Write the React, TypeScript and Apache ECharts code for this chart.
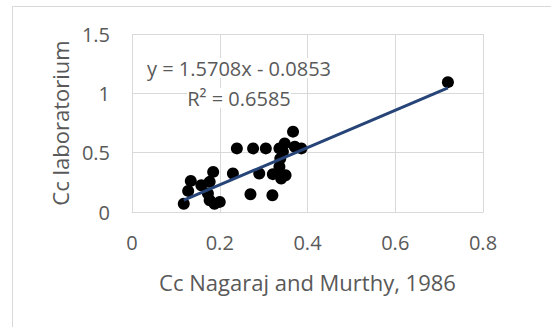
import React, { useEffect, useRef } from "react";
import * as echarts from "echarts";

const xValues = [0.118, 0.128, 0.134, 0.158, 0.177, 0.185, 0.173, 0.177, 0.188, 0.2, 0.23, 0.239, 0.27, 0.276, 0.29, 0.305, 0.32, 0.321, 0.336, 0.348, 0.367, 0.371, 0.386, 0.336, 0.34, 0.35, 0.333, 0.344, 0.338, 0.72];
const yValues = [0.07, 0.178, 0.262, 0.226, 0.254, 0.338, 0.155, 0.099, 0.07, 0.085, 0.324, 0.536, 0.149, 0.536, 0.324, 0.536, 0.141, 0.319, 0.536, 0.578, 0.677, 0.55, 0.536, 0.381, 0.282, 0.31, 0.324, 0.508, 0.45, 1.094];
const slope = 1.5708;
const intercept = -0.0853;
const xTicks = [0, 0.2, 0.4, 0.6, 0.8];
const yTicks = [0, 0.5, 1, 1.5];
const xTitle = "Cc Nagaraj and Murthy, 1986";
const yTitle = "Cc laboratorium";
const eqLabel = "y = 1.5708x - 0.0853";
const r2Label = "R² = 0.6585";

const FONT = "'Open Sans', 'Noto Sans', sans-serif";
const GREY = "#595959";

export default function App() {
  const ref = useRef<HTMLDivElement>(null);
  useEffect(() => {
    if (!ref.current) return;
    const chart = echarts.init(ref.current, null, { renderer: "svg" });
    const pts = xValues.map((x, i) => [x, yValues[i]]);
    const xmin = Math.min(...xValues);
    const xmax = Math.max(...xValues);
    const trend = [
      [xmin, slope * xmin + intercept],
      [xmax, slope * xmax + intercept],
    ];
    chart.setOption({
      animation: false,
      backgroundColor: "#ffffff",
      textStyle: { fontFamily: FONT },
      grid: { left: 132, right: 68, top: 34, bottom: 115 },
      xAxis: {
        type: "value",
        min: xTicks[0],
        max: xTicks[xTicks.length - 1],
        interval: 0.2,
        axisLine: { show: true, lineStyle: { color: "#d9d9d9", width: 1 } },
        axisTick: { show: false },
        splitLine: { show: true, lineStyle: { color: "#d9d9d9", width: 1 } },
        axisLabel: { color: GREY, fontSize: 20, fontFamily: FONT, margin: 20 },
        name: xTitle,
        nameLocation: "middle",
        nameGap: 59,
        nameTextStyle: { color: GREY, fontSize: 22, fontFamily: FONT },
      },
      yAxis: {
        type: "value",
        min: yTicks[0],
        max: yTicks[yTicks.length - 1],
        interval: 0.5,
        axisLine: { show: false },
        axisTick: { show: false },
        splitLine: { show: true, lineStyle: { color: "#d9d9d9", width: 1 } },
        axisLabel: { color: GREY, fontSize: 20, fontFamily: FONT, margin: 22 },
        name: yTitle,
        nameLocation: "middle",
        nameGap: 60,
        nameTextStyle: { color: GREY, fontSize: 22, fontFamily: FONT },
      },
      graphic: [
        {
          type: "rect",
          shape: { x: 12.5, y: 6.5, width: 600, height: 400 },
          style: { fill: "none", stroke: "#d9d9d9", lineWidth: 1 },
          silent: true,
        },
        {
          type: "text",
          x: 239,
          y: 68,
          z: 10,
          style: { text: eqLabel, fill: GREY, font: `20px ${FONT}`, textAlign: "center", textVerticalAlign: "middle", backgroundColor: "#ffffff" },
        },
        {
          type: "text",
          x: 239,
          y: 98,
          z: 10,
          style: { text: r2Label, fill: GREY, font: `20px ${FONT}`, textAlign: "center", textVerticalAlign: "middle", backgroundColor: "#ffffff" },
        },
      ],
      series: [
        {
          type: "scatter",
          data: pts,
          symbol: "circle",
          symbolSize: 12,
          itemStyle: { color: "#000000", opacity: 1 },
          z: 2,
        },
        {
          type: "line",
          data: trend,
          showSymbol: false,
          symbol: "none",
          lineStyle: { color: "#264478", width: 3 },
          z: 3,
        },
      ],
    });
    return () => chart.dispose();
  }, []);
  return <div ref={ref} style={{ width: 551, height: 327, position: "absolute", left: 0, top: 0 }} />;
}
